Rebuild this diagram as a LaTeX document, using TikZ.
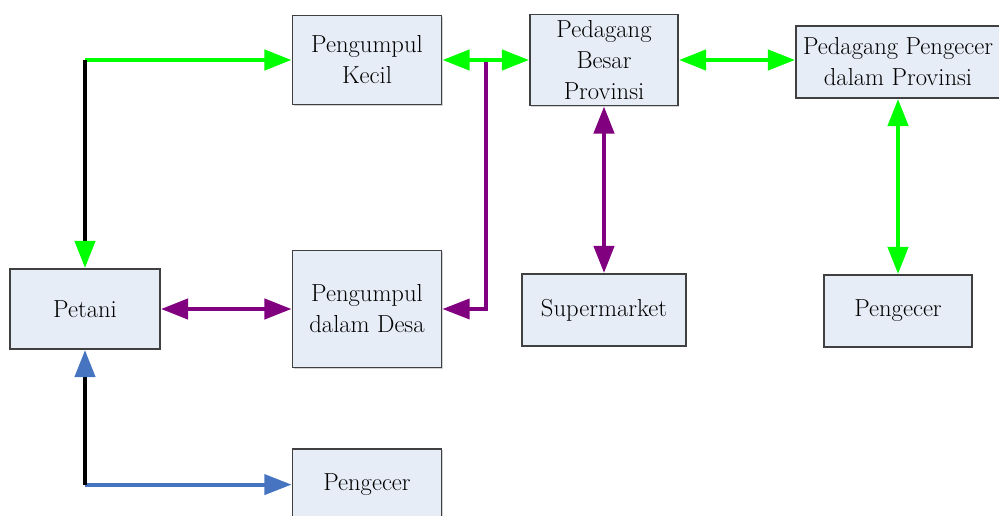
\documentclass[tikz,border=0pt]{standalone}
\usepackage{tikz}
\usepackage{xcolor}
\usetikzlibrary{arrows.meta,calc,shadows}
\definecolor{hijau}{RGB}{0,255,0}
\definecolor{ungu}{RGB}{128,0,128}
\definecolor{biru}{RGB}{70,116,193}
\definecolor{isian}{RGB}{231,237,247}
\tikzstyle{kotak} = [rectangle, draw=black!75, line width=1.3pt, fill=isian, align=center, inner sep=1pt, font=\fontsize{17.5}{22}\selectfont, drop shadow={shadow xshift=1pt, shadow yshift=-1pt, fill=black!35}]

\begin{document}
\begin{tikzpicture}[>={Triangle[length=0.68cm,width=0.5cm]},line width=3.2pt,node distance=2cm]
  \useasboundingbox (-2.125,7.725) rectangle (22.85,-5.15);
  \node[kotak, minimum width=3.75cm, minimum height=2cm] (Petani) {Petani};
  \node[kotak, minimum width=3.725cm, minimum height=2.925cm] (Desa) [right of=Petani, node distance=7.05cm] {Pengumpul\\dalam Desa};
  \node[kotak, minimum width=3.725cm, minimum height=2.225cm] (Kecil) [above of=Desa, node distance=6.225cm] {Pengumpul\\Kecil};
  \node[kotak, minimum width=3.7cm, minimum height=2.275cm] (Besar) [right of=Kecil, node distance=5.925cm] {Pedagang\\Besar\\Provinsi};
  \node[kotak, minimum width=4.1cm, minimum height=1.8cm] (Supermarket) [below of=Besar, node distance=6.25cm] {Supermarket};
  \node[kotak, minimum width=5.1cm, minimum height=1.8cm, yshift=-0.05cm] (PengecerProv) [right of=Besar, node distance=7.35cm] {Pedagang Pengecer\\dalam Provinsi};
  \node[kotak, minimum width=3.7cm, minimum height=1.8cm] (PengecerKanan) [below of=PengecerProv, node distance=6.225cm] {Pengecer};
  \node[kotak, minimum width=3.725cm, minimum height=1.8cm] (PengecerBawah) [below of=Desa, node distance=4.39cm] {Pengecer};

  \coordinate (sudut_atas) at (Petani |- Kecil);
  \coordinate (sudut_bawah) at (Petani |- PengecerBawah);
  \coordinate (cabang) at ($(Kecil.east)!0.5!(Besar.west)$);

  \draw[ungu, line width=2.6pt, ->] (cabang) |- (Desa.east);
  \draw[hijau, <->] (Kecil) -- (Besar);
  \draw[hijau, ->] (sudut_atas) -- (Kecil);
  \draw[black, -{Triangle[length=0.68cm,width=0.5cm,color=hijau]}] (sudut_atas) -- (Petani);
  \draw[biru, line width=2.8pt, ->] (sudut_bawah) -- (PengecerBawah);
  \draw[black, {Triangle[length=0.68cm,width=0.5cm,color=biru]}-] (Petani) -- (sudut_bawah);
  \draw[ungu, <->] (Petani) -- (Desa);
  \draw[hijau, <->] (Besar.east) -- (Besar.east -| PengecerProv.west);
  \draw[ungu, <->] (Besar) -- (Supermarket);
  \draw[hijau, <->] (PengecerProv) -- (PengecerKanan);
\end{tikzpicture}
\end{document}
